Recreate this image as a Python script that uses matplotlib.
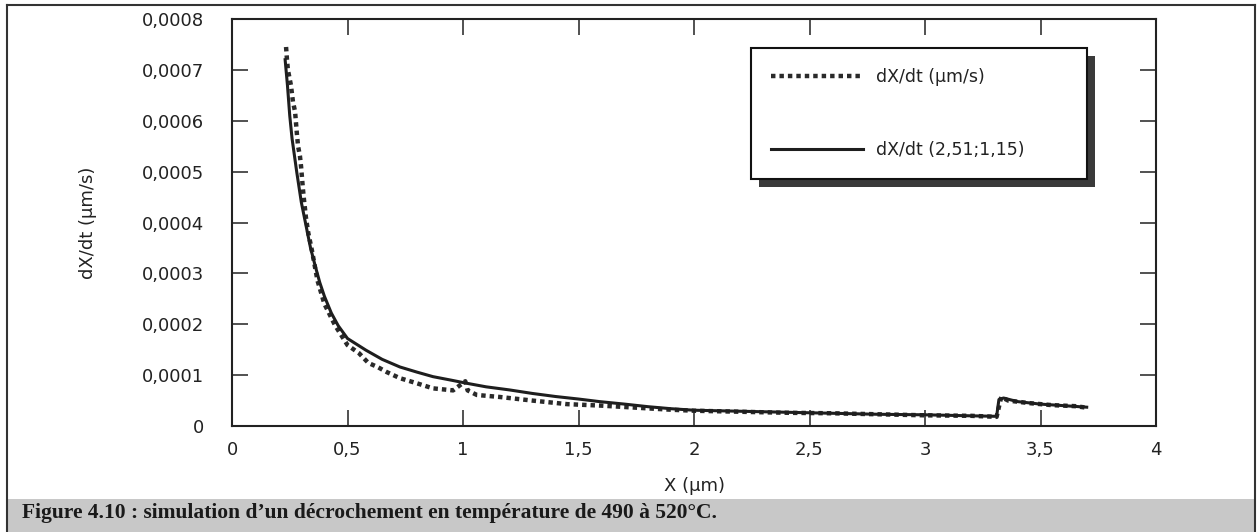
import matplotlib.pyplot as plt
from matplotlib.patches import Rectangle
from matplotlib.lines import Line2D

x_mes = [0.234, 0.238, 0.242, 0.255, 0.264, 0.273, 0.277, 0.281, 0.286, 0.294,
         0.299, 0.303, 0.307, 0.312, 0.316, 0.32, 0.33, 0.346, 0.37, 0.40,
         0.446, 0.50, 0.55, 0.59, 0.63, 0.67, 0.727, 0.80, 0.87, 0.957,
         1.01, 1.02, 1.06, 1.16, 1.30, 1.45, 1.60, 1.75, 1.90, 2.00,
         2.20, 2.40, 2.60, 2.80, 3.00, 3.20, 3.31, 3.33, 3.36, 3.45,
         3.55, 3.65, 3.70]
y_mes = [7.45, 7.2, 7.0, 6.7, 6.37, 6.18, 5.96, 5.74, 5.5, 5.31,
         5.1, 4.88, 4.66, 4.43, 4.27, 4.1, 3.8, 3.45, 2.86, 2.4,
         1.98, 1.59, 1.43, 1.24, 1.16, 1.06, 0.94, 0.84, 0.74, 0.70,
         0.88, 0.70, 0.61, 0.57, 0.50, 0.43, 0.40, 0.36, 0.32, 0.30,
         0.28, 0.26, 0.25, 0.23, 0.21, 0.20, 0.18, 0.57, 0.50, 0.45,
         0.41, 0.39, 0.36]

# simulation dX/dt (2,51;1,15)
x_sim = [0.23, 0.24, 0.25, 0.26, 0.28, 0.30, 0.32, 0.34, 0.36, 0.38,
         0.40, 0.43, 0.46, 0.50, 0.58, 0.65, 0.727, 0.80, 0.87, 0.95,
         1.016, 1.10, 1.20, 1.30, 1.40, 1.50, 1.59, 1.70, 1.80, 1.90,
         2.00, 2.20, 2.40, 2.60, 2.80, 3.00, 3.20, 3.31, 3.32, 3.34,
         3.40, 3.50, 3.60, 3.70]
y_sim = [7.2, 6.7, 6.1, 5.65, 5.0, 4.4, 3.95, 3.5, 3.15, 2.82,
         2.55, 2.22, 1.97, 1.72, 1.49, 1.31, 1.16, 1.06, 0.97, 0.90,
         0.84, 0.77, 0.71, 0.64, 0.58, 0.53, 0.48, 0.43, 0.38, 0.34,
         0.31, 0.29, 0.27, 0.25, 0.23, 0.22, 0.20, 0.19, 0.52, 0.55,
         0.48, 0.43, 0.40, 0.37]

xticks = [0, 0.5, 1, 1.5, 2, 2.5, 3, 3.5, 4]
xtick_labels = ['0', '0,5', '1', '1,5', '2', '2,5', '3', '3,5', '4']
yticks = [0, 1, 2, 3, 4, 5, 6, 7, 8]
ytick_labels = ['0', '0,0001', '0,0002', '0,0003', '0,0004', '0,0005',
                '0,0006', '0,0007', '0,0008']

caption = "Figure 4.10 : simulation d\u2019un d\u00e9crochement en temp\u00e9rature de 490 \u00e0 520\u00b0C."

W, H = 1257, 532
fig = plt.figure(figsize=(W / 100, H / 100), dpi=100)
ax = fig.add_axes([232 / W, 1 - 426 / H, 924 / W, 407 / H])

ax.plot(x_mes, y_mes, color='#2a2a2a', lw=3.2, ls=(0, (1.0, 0.9)),
        dash_capstyle='butt', label='dX/dt (\u00b5m/s)')
ax.plot(x_sim, y_sim, color='#1e1e1e', lw=2.2, label='dX/dt (2,51;1,15)')

ax.set_xlim(0, 4)
ax.set_ylim(0, 8)
ax.set_xticks(xticks, xtick_labels)
ax.set_yticks(yticks, ytick_labels)
ax.tick_params(direction='in', length=11.5, width=1.1, color='#222',
               top=True, right=True, labelsize=13, labelcolor='#222')
ax.tick_params(axis='y', pad=20)
ax.tick_params(axis='x', pad=11)
for s in ax.spines.values():
    s.set_linewidth(1.5)
    s.set_color('#222')

ax.set_xlabel('X (\u00b5m)', fontsize=13, color='#222')
ax.set_ylabel('dX/dt (\u00b5m/s)', fontsize=13, color='#222')
ax.xaxis.set_label_coords(0.5, -0.125)
ax.yaxis.set_label_coords(-0.146, 0.5)

# legend stretched to the box width of the original
lx0 = (751 - 232) / 924
lw_ = (1087 - 751) / 924
ltop = (426 - 48) / 407
leg = ax.legend(loc='upper left', bbox_to_anchor=(lx0, ltop - 0.3, lw_, 0.3),
                mode='expand', fontsize=12.5, frameon=True, fancybox=False,
                framealpha=1, edgecolor='#111', borderpad=1.15, labelspacing=3.15,
                handlelength=5.3, handletextpad=0.75, borderaxespad=0)
leg.get_frame().set_linewidth(1.5)
for t in leg.get_texts():
    t.set_color('#222')

# drop shadow behind legend
fig.canvas.draw()
bb = leg.get_window_extent()
shadow = Rectangle((bb.x0 + 8, bb.y0 - 8), bb.width, bb.height, transform=None,
                   facecolor='#3a3a3a', edgecolor='none', zorder=4.9, clip_on=False)
ax.add_artist(shadow)

# page frame and caption bar
fig.patches.append(Rectangle((7 / W, 0), (1255 - 7) / W, 33 / H, transform=fig.transFigure,
                             facecolor='#c8c8c8', edgecolor='none', zorder=0))
for xs, ys in [([7 / W, 7 / W], [0, 1 - 5 / H]), ([1255 / W, 1255 / W], [0, 1 - 5 / H]),
               ([7 / W, 1255 / W], [1 - 5 / H, 1 - 5 / H])]:
    fig.lines.append(Line2D(xs, ys, transform=fig.transFigure, color='#333', lw=1.5))
fig.text(22 / W, 1 - 518 / H, caption, family='Liberation Serif', weight='bold',
         fontsize=15.5, color='#1a1a1a', ha='left', va='baseline')

fig.savefig('out.png', dpi=100)
